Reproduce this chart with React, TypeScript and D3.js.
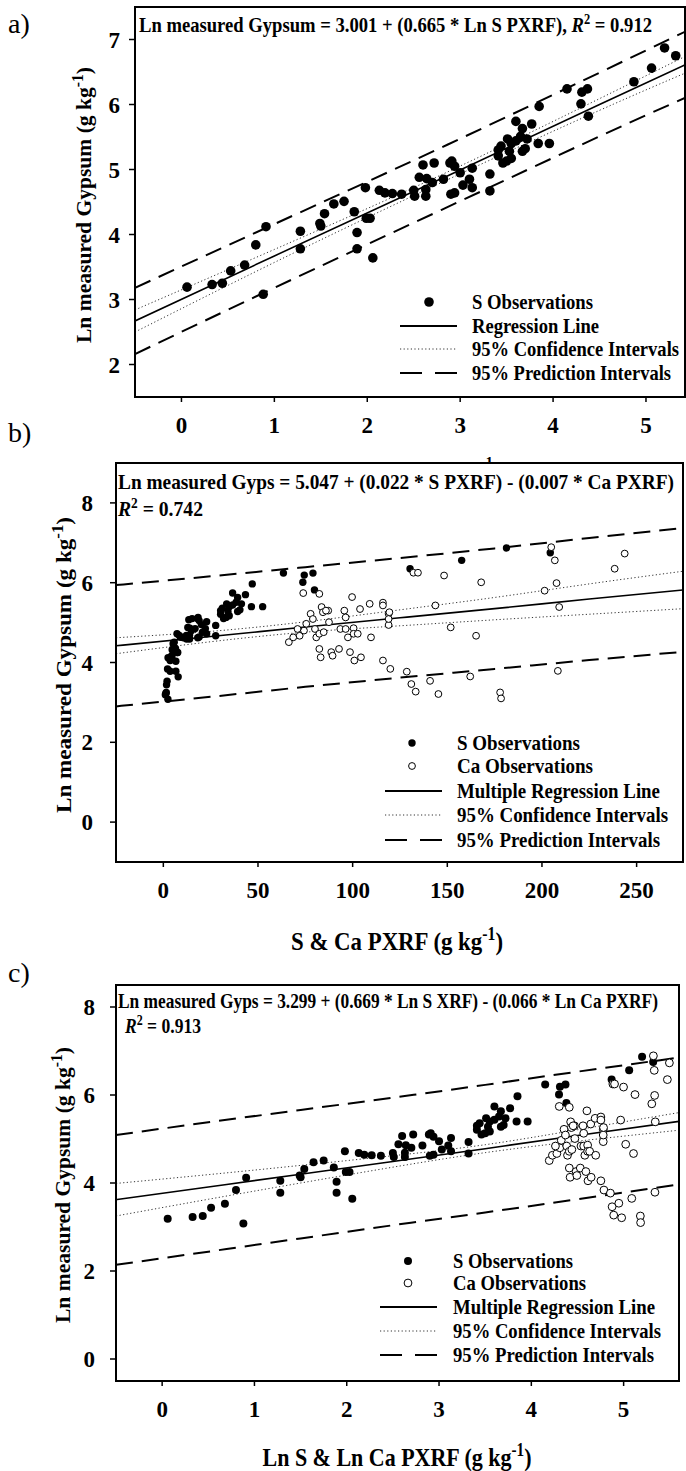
import * as React from "react";
import * as d3 from "d3";

const font = "'Liberation Serif', 'Times New Roman', serif";

// ln S PXRF vs ln measured gypsum (same samples in a, b and c)
const sObs: [number, number][] = [
  [0.06, 3.19], [0.33, 3.23], [0.44, 3.25], [0.53, 3.44], [0.68, 3.53], [0.8, 3.84], [0.88, 3.08], [0.91, 4.12],
  [1.28, 4.05], [1.28, 3.78], [1.49, 4.17], [1.5, 4.13], [1.54, 4.32], [1.64, 4.47], [1.75, 4.51], [1.86, 4.35],
  [1.89, 4.03], [1.89, 3.78], [1.98, 4.72], [1.99, 4.25], [2.03, 4.25], [2.06, 3.64], [2.13, 4.68], [2.19, 4.64],
  [2.27, 4.63], [2.37, 4.62], [2.5, 4.68], [2.51, 4.59], [2.63, 4.69], [2.63, 4.59], [2.56, 4.88], [2.64, 4.86],
  [2.7, 4.8], [2.82, 4.85], [2.6, 5.07], [2.72, 5.1], [2.89, 5.1], [2.91, 5.13], [2.94, 5.05], [3.0, 4.95],
  [2.9, 4.62], [2.94, 4.64], [3.03, 4.76], [3.13, 4.72], [3.1, 4.85], [3.13, 5.02], [3.32, 4.93], [3.32, 4.67],
  [3.41, 5.3], [3.41, 5.21], [3.44, 5.36], [3.53, 5.28], [3.55, 5.17], [3.5, 5.13], [3.46, 5.1], [3.51, 5.47],
  [3.55, 5.4], [3.6, 5.44], [3.65, 5.51], [3.67, 5.28], [3.6, 5.74], [3.67, 5.63], [3.77, 5.7], [3.72, 5.47],
  [3.84, 5.4], [3.7, 5.32], [3.85, 5.97], [3.96, 5.4], [4.15, 6.24], [4.31, 6.19], [4.37, 6.24], [4.3, 6.01],
  [4.38, 5.82], [4.87, 6.35], [5.06, 6.56], [5.2, 6.87], [5.32, 6.75],
];

// Ca PXRF (g kg-1) vs ln measured gypsum
const caObs: [number, number][] = [
  [66.3, 4.51], [68.6, 4.63], [72.0, 4.67], [74.3, 4.8], [70.9, 4.84], [75.5, 4.97], [77.8, 5.22], [79.0, 5.09],
  [80.1, 4.84], [80.8, 4.63], [82.4, 4.72], [84.7, 4.76], [83.6, 5.39], [84.3, 5.26], [87.1, 5.3], [87.5, 5.01],
  [82.4, 4.34], [83.1, 4.13], [88.7, 4.26], [89.4, 4.17], [92.8, 4.34], [95.6, 5.3], [96.3, 5.13], [93.5, 4.84],
  [96.3, 4.84], [97.5, 4.63], [100.5, 4.86], [100.5, 4.72], [102.7, 4.72], [98.6, 4.26], [100.9, 4.05], [104.4, 4.13],
  [103.9, 5.34], [109.7, 4.63], [116.0, 4.05], [119.9, 3.84], [119.0, 5.22], [119.0, 4.94], [119.0, 5.09], [128.6, 3.77],
  [131.0, 3.46], [133.3, 3.27], [140.9, 3.54], [145.3, 3.21], [151.8, 4.88], [162.1, 3.65], [165.2, 4.67], [177.9, 3.25],
  [178.4, 3.1], [208.4, 3.79], [73.9, 5.74], [82.4, 5.72], [99.7, 5.64], [109.0, 5.47], [116.0, 5.5], [116.0, 5.43],
  [85.9, 5.3], [119.4, 5.26], [143.7, 5.43], [209.1, 5.39], [201.4, 5.8], [207.7, 5.99], [167.9, 6.01], [148.3, 6.18],
  [132.1, 6.25], [134.5, 6.25], [238.4, 6.35], [243.7, 6.73], [206.8, 6.56], [204.9, 6.89],
];

// panel a
const xTicksA = [0, 1, 2, 3, 4, 5];
const yTicksA = [2, 3, 4, 5, 6, 7];
const bandXA = [-0.5, 1, 2.8, 4.5, 5.45];
const fitA = [2.67, 3.67, 4.86, 6.0, 6.63];
const ciLowA = [2.5, 3.57, 4.8, 5.91, 6.5];
const ciHighA = [2.84, 3.77, 4.92, 6.09, 6.76];
const piLowA = [2.16, 3.18, 4.38, 5.51, 6.12];
const piHighA = [3.18, 4.16, 5.34, 6.49, 7.14];
const legendA = ["S Observations", "Regression Line", "95% Confidence Intervals", "95% Prediction Intervals"];

// panel b
const xTicksB = [0, 50, 100, 150, 200, 250];
const yTicksB = [0, 2, 4, 6, 8];
const bandXB = [-25, 25, 75, 125, 175, 225, 275];
const fitB = [4.42, 4.65, 4.89, 5.12, 5.35, 5.59, 5.82];
const ciLowB = [4.22, 4.52, 4.76, 4.92, 5.07, 5.21, 5.35];
const ciHighB = [4.62, 4.78, 5.02, 5.32, 5.63, 5.97, 6.29];
const piLowB = [2.9, 3.14, 3.39, 3.62, 3.84, 4.06, 4.27];
const piHighB = [5.94, 6.16, 6.39, 6.62, 6.86, 7.12, 7.37];

// panel c
const xTicksC = [0, 1, 2, 3, 4, 5];
const yTicksC = [0, 2, 4, 6, 8];
const bandXC = [-0.5, 0.5, 1.5, 2.5, 3.5, 4.5, 5.6];
const fitC = [3.62, 3.91, 4.2, 4.49, 4.78, 5.08, 5.4];
const ciLowC = [3.25, 3.63, 4.0, 4.36, 4.69, 4.95, 5.2];
const ciHighC = [3.99, 4.19, 4.4, 4.62, 4.87, 5.21, 5.6];
const piLowC = [2.14, 2.44, 2.74, 3.04, 3.33, 3.63, 3.97];
const piHighC = [5.09, 5.38, 5.66, 5.94, 6.23, 6.53, 6.85];

const legendBC = ["S Observations", "Ca Observations", "Multiple Regression Line", "95% Confidence Intervals", "95% Prediction Intervals"];

type Frame = { left: number; right: number; top: number; bottom: number };
type Kind = "dot" | "open" | "solid" | "dotted" | "dashed";

const dotted = "1.2 2.4";
const dashed = "17 9";

function Panel({
  id, frame, xDomain, yDomain, xTicks, yTicks, yGap, filled, open = [], r, rOpen = 3.4,
  bandX, fit, ciLow, ciHigh, piLow, piHigh,
  legend, legendKinds, legendYs, legendWidths, markX, lineX, textX,
}: {
  id: string; frame: Frame; xDomain: [number, number]; yDomain: [number, number];
  xTicks: number[]; yTicks: number[]; yGap: number;
  filled: [number, number][]; open?: [number, number][]; r: number; rOpen?: number;
  bandX: number[]; fit: number[]; ciLow: number[]; ciHigh: number[]; piLow: number[]; piHigh: number[];
  legend: string[]; legendKinds: Kind[]; legendYs: number[]; legendWidths: number[];
  markX: number; lineX: [number, number]; textX: number;
}) {
  const x = d3.scaleLinear(xDomain, [frame.left, frame.right]);
  const y = d3.scaleLinear(yDomain, [frame.bottom, frame.top]);
  const path = (ys: number[]) =>
    d3.line<number>().x((_, i) => x(bandX[i])).y((d) => y(d)).curve(d3.curveNatural)(ys) || "";

  const marker = (kind: Kind, cy: number) => {
    switch (kind) {
      case "dot":
        return <circle cx={markX} cy={cy} r={r} fill="#000" />;
      case "open":
        return <circle cx={markX} cy={cy} r={rOpen} fill="#fff" stroke="#000" strokeWidth={1} />;
      case "solid":
        return <line x1={lineX[0]} x2={lineX[1]} y1={cy} y2={cy} stroke="#000" strokeWidth={1.8} />;
      case "dotted":
        return <line x1={lineX[0]} x2={lineX[1]} y1={cy} y2={cy} stroke="#333" strokeWidth={1} strokeDasharray={dotted} />;
      default:
        return <line x1={lineX[0]} x2={lineX[1]} y1={cy} y2={cy} stroke="#000" strokeWidth={2} strokeDasharray="22 13" />;
    }
  };

  return (
    <g>
      <defs>
        <clipPath id={`clip-${id}`}>
          <rect x={frame.left} y={frame.top} width={frame.right - frame.left} height={frame.bottom - frame.top} />
        </clipPath>
      </defs>
      <rect x={frame.left} y={frame.top} width={frame.right - frame.left} height={frame.bottom - frame.top} fill="#fff" />
      <g clipPath={`url(#clip-${id})`} fill="none">
        <path d={path(piLow)} stroke="#000" strokeWidth={2} strokeDasharray={dashed} />
        <path d={path(piHigh)} stroke="#000" strokeWidth={2} strokeDasharray={dashed} />
        <path d={path(ciLow)} stroke="#333" strokeWidth={1} strokeDasharray={dotted} />
        <path d={path(ciHigh)} stroke="#333" strokeWidth={1} strokeDasharray={dotted} />
        <path d={path(fit)} stroke="#000" strokeWidth={1.6} />
      </g>
      <g clipPath={`url(#clip-${id})`}>
        {filled.map((d, i) => (
          <circle key={`f${i}`} cx={x(d[0])} cy={y(d[1])} r={r} fill="#000" />
        ))}
        {open.map((d, i) => (
          <circle key={`o${i}`} cx={x(d[0])} cy={y(d[1])} r={rOpen} fill="#fff" stroke="#000" strokeWidth={1} />
        ))}
      </g>
      {legend.map((label, i) => (
        <g key={label}>
          {marker(legendKinds[i], legendYs[i])}
          <text x={textX} y={legendYs[i]} dy="0.34em" fontSize={22} textLength={legendWidths[i]} lengthAdjust="spacingAndGlyphs">
            {label}
          </text>
        </g>
      ))}
      <rect x={frame.left} y={frame.top} width={frame.right - frame.left} height={frame.bottom - frame.top} fill="none" stroke="#000" strokeWidth={2} />
      {xTicks.map((t) => (
        <g key={`x${t}`}>
          <line x1={x(t)} x2={x(t)} y1={frame.bottom} y2={frame.bottom + 5} stroke="#000" strokeWidth={1.5} />
          <text x={x(t)} y={frame.bottom + 36} textAnchor="middle" fontSize={23}>{t}</text>
        </g>
      ))}
      {yTicks.map((t) => (
        <g key={`y${t}`}>
          <line x1={frame.left - 6} x2={frame.left} y1={y(t)} y2={y(t)} stroke="#000" strokeWidth={1.5} />
          <text x={frame.left - yGap} y={y(t)} dy="0.35em" textAnchor="end" fontSize={23}>{t}</text>
        </g>
      ))}
    </g>
  );
}

function YTitle({ x, y, len }: { x: number; y: number; len: number }) {
  return (
    <text transform={`translate(${x},${y}) rotate(-90)`} textAnchor="middle" fontSize={22} textLength={len} lengthAdjust="spacingAndGlyphs">
      Ln measured Gypsum (g kg<tspan dy={-8} fontSize={16}>-1</tspan><tspan dy={8}>)</tspan>
    </text>
  );
}

function R2({ x, y, len, value }: { x: number; y: number; len: number; value: string }) {
  return (
    <text x={x} y={y} fontSize={22} textLength={len} lengthAdjust="spacingAndGlyphs">
      <tspan fontStyle="italic">R</tspan><tspan dy={-8} fontSize={15}>2</tspan><tspan dy={8}>{` = ${value}`}</tspan>
    </text>
  );
}

export default function App() {
  const sRaw = sObs.map(([ls, g]) => [Math.exp(ls), g] as [number, number]);
  const caLn = caObs.map(([ca, g]) => [Math.log(ca), g] as [number, number]);

  return (
    <svg width={686} height={1471} style={{ position: "absolute", left: 0, top: 0, background: "#fff" }} fontFamily={font} fontWeight="bold">
      {/* a */}
      <Panel
        id="a" frame={{ left: 135, right: 685, top: 7, bottom: 397 }} xDomain={[-0.5, 5.42]} yDomain={[1.5, 7.5]}
        xTicks={xTicksA} yTicks={yTicksA} yGap={15} filled={sObs} r={4.8}
        bandX={bandXA} fit={fitA} ciLow={ciLowA} ciHigh={ciHighA} piLow={piLowA} piHigh={piHighA}
        legend={legendA} legendKinds={["dot", "solid", "dotted", "dashed"]} legendYs={[302, 326, 349, 373]}
        legendWidths={[121, 127, 207, 199]} markX={429} lineX={[400, 457]} textX={472}
      />
      <text x={8} y={33} fontSize={28} fontWeight="normal">a)</text>
      <text x={139} y={32} fontSize={21} textLength={513} lengthAdjust="spacingAndGlyphs">
        Ln measured Gypsum = 3.001 + (0.665 * Ln S PXRF), <tspan fontStyle="italic">R</tspan>
        <tspan dy={-8} fontSize={14}>2</tspan><tspan dy={8}> = 0.912</tspan>
      </text>
      <YTitle x={91} y={205} len={276} />
      <text x={500} y={481} textAnchor="end" fontSize={21}>
        Ln S PXRF (g kg<tspan dy={-14.5} fontSize={15}>-1</tspan><tspan dy={14.5}>)</tspan>
      </text>

      {/* b */}
      <Panel
        id="b" frame={{ left: 116, right: 683, top: 463, bottom: 862 }} xDomain={[-25, 274.5]} yDomain={[-1, 9]}
        xTicks={xTicksB} yTicks={yTicksB} yGap={23} filled={sRaw} open={caObs} r={3.7} rOpen={3.4}
        bandX={bandXB} fit={fitB} ciLow={ciLowB} ciHigh={ciHighB} piLow={piLowB} piHigh={piHighB}
        legend={legendBC} legendKinds={["dot", "open", "solid", "dotted", "dashed"]} legendYs={[743, 766, 791, 815, 840]}
        legendWidths={[123, 136, 203, 211, 203]} markX={412} lineX={[385, 442]} textX={457}
      />
      <text x={8} y={442} fontSize={28} fontWeight="normal">b)</text>
      <text x={118} y={489} fontSize={22} textLength={556} lengthAdjust="spacingAndGlyphs">
        Ln measured Gyps = 5.047 + (0.022 * S PXRF) - (0.007 * Ca PXRF)
      </text>
      <R2 x={118} y={516} len={85} value="0.742" />
      <YTitle x={71} y={665} len={296} />
      <text x={397} y={950} textAnchor="middle" fontSize={26} textLength={212} lengthAdjust="spacingAndGlyphs">
        S &amp; Ca PXRF (g kg<tspan dy={-10} fontSize={18}>-1</tspan><tspan dy={10}>)</tspan>
      </text>

      {/* c */}
      <Panel
        id="c" frame={{ left: 116, right: 679, top: 985, bottom: 1381 }} xDomain={[-0.5, 5.6]} yDomain={[-0.5, 8.5]}
        xTicks={xTicksC} yTicks={yTicksC} yGap={21} filled={sObs} open={caLn} r={4.0} rOpen={3.9}
        bandX={bandXC} fit={fitC} ciLow={ciLowC} ciHigh={ciHighC} piLow={piLowC} piHigh={piHighC}
        legend={legendBC} legendKinds={["dot", "open", "solid", "dotted", "dashed"]} legendYs={[1261, 1283, 1307, 1331, 1355]}
        legendWidths={[120, 133, 202, 208, 201]} markX={408} lineX={[380, 437]} textX={453}
      />
      <text x={8} y={982} fontSize={28} fontWeight="normal">c)</text>
      <text x={118} y={1008} fontSize={21} textLength={540} lengthAdjust="spacingAndGlyphs">
        Ln measured Gyps = 3.299 + (0.669 * Ln S XRF) - (0.066 * Ln Ca PXRF)
      </text>
      <R2 x={125} y={1033} len={76} value="0.913" />
      <YTitle x={70} y={1185} len={276} />
      <text x={397} y={1466} textAnchor="middle" fontSize={26} textLength={269} lengthAdjust="spacingAndGlyphs">
        Ln S &amp; Ln Ca PXRF (g kg<tspan dy={-10} fontSize={18}>-1</tspan><tspan dy={10}>)</tspan>
      </text>
    </svg>
  );
}
